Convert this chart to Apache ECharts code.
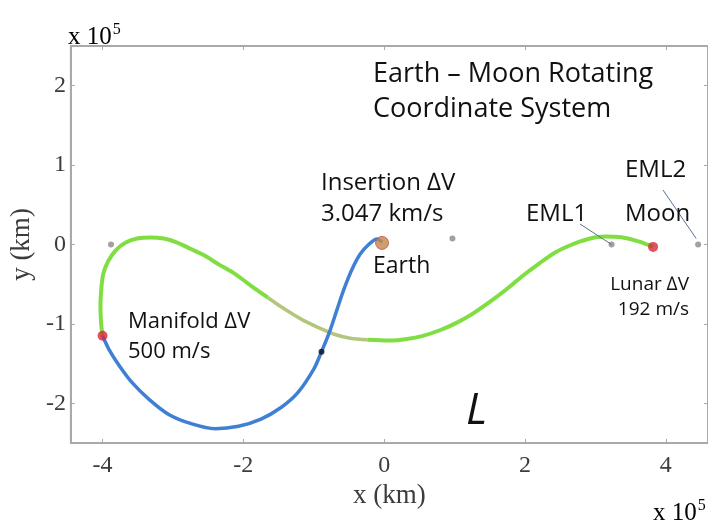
<!DOCTYPE html>
<html><head><meta charset="utf-8">
<script src="https://cdn.jsdelivr.net/npm/echarts@6/dist/echarts.min.js"></script>
<style>html,body{margin:0;padding:0;background:#fff}#c{width:708px;height:524px}</style>
</head><body><div id="c"></div>
<script>
// tick values (x10^5 km)
const xTicks = [-4, -2, 0, 2, 4];
const yTicks = [-2, -1, 0, 1, 2];
// green transfer arc: Moon -> manifold point
const greenX = [3.82, 3.61, 3.37, 3.14, 2.90, 2.67, 2.43, 2.20, 1.96, 1.73, 1.49, 1.26, 1.02, 0.79, 0.55, 0.32, 0.08, -0.24, -0.48, -0.71, -0.95, -1.18, -1.42, -1.65, -1.89, -2.12, -2.35, -2.57, -2.76, -2.94, -3.13, -3.32, -3.51, -3.67, -3.81, -3.92, -3.99, -4.02, -4.03, -4.02, -4.00];
const greenY = [-0.03, 0.04, 0.09, 0.10, 0.07, 0.00, -0.10, -0.24, -0.40, -0.57, -0.73, -0.87, -0.99, -1.08, -1.15, -1.19, -1.21, -1.20, -1.18, -1.13, -1.04, -0.94, -0.81, -0.67, -0.52, -0.37, -0.25, -0.13, -0.05, 0.025, 0.075, 0.088, 0.075, 0.025, -0.07, -0.21, -0.37, -0.58, -0.79, -1.00, -1.15];
// faded (olive) stretch of the green arc, by index range
const fadeRange = [17, 23];
// blue arc: manifold point -> Earth
const blueX = [-4.00, -3.91, -3.76, -3.58, -3.34, -3.06, -2.73, -2.40, -2.07, -1.75, -1.46, -1.23, -1.00, -0.89, -0.78, -0.67, -0.57, -0.45, -0.34, -0.22, -0.10, -0.03];
const blueY = [-1.15, -1.32, -1.53, -1.74, -1.95, -2.14, -2.26, -2.32, -2.29, -2.20, -2.05, -1.87, -1.57, -1.35, -1.11, -0.82, -0.56, -0.30, -0.12, 0.00, 0.07, 0.03];
// burn points (red): manifold, Moon
const burnX = [-4.00, 3.82];
const burnY = [-1.15, -0.03];
// Earth
const earthX = [-0.03];
const earthY = [0.02];
// crossing marker (black)
const markX = [-0.89];
const markY = [-1.35];
// libration points and small markers (gray): L3, EML1, EML2, other
const libX = [-3.88, 3.23, 4.46, 0.97];
const libY = [0.0, 0.0, 0.0, 0.075];

function pairs(xs, ys) { return xs.map((x, i) => [x, ys[i]]); }

const chart = echarts.init(document.getElementById('c'), null, {renderer: 'canvas'});
const serif = '"Liberation Serif", "DejaVu Serif", serif';
const sans = '"Open Sans", "Noto Sans", sans-serif';
const axisGray = '#a9a9a9';
const labelColor = '#3c3c3c';
const greenPts = pairs(greenX, greenY);

const option = {
  backgroundColor: '#fff',
  animation: false,
  grid: {left: 68, top: 46, right: -3, bottom: 81, show: true, borderColor: axisGray, borderWidth: 2, backgroundColor: 'transparent'},
  xAxis: [{
    type: 'value', min: -4.45, max: 4.6,
    axisLine: {show: true, onZero: false, lineStyle: {color: axisGray, width: 2}},
    axisTick: {show: true, inside: true, length: 4, customValues: xTicks, lineStyle: {color: axisGray}},
    axisLabel: {customValues: xTicks, fontFamily: serif, fontSize: 24, color: labelColor, margin: 11},
    splitLine: {show: false},
    name: 'x (km)', nameLocation: 'middle', nameGap: 26,
    nameTextStyle: {fontFamily: serif, fontSize: 27, color: labelColor}
  }, {
    type: 'value', min: -4.45, max: 4.6, position: 'top',
    axisLine: {show: true, onZero: false, lineStyle: {color: axisGray, width: 2}},
    axisTick: {show: true, inside: true, length: 4, customValues: xTicks, lineStyle: {color: axisGray}},
    axisLabel: {show: false}, splitLine: {show: false}
  }],
  yAxis: [{
    type: 'value', min: -2.5, max: 2.5,
    axisLine: {show: true, onZero: false, lineStyle: {color: axisGray, width: 2}},
    axisTick: {show: true, inside: true, length: 4, customValues: yTicks, lineStyle: {color: axisGray}},
    axisLabel: {customValues: yTicks, fontFamily: serif, fontSize: 24, color: labelColor, margin: 5},
    splitLine: {show: false},
    name: 'y (km)', nameLocation: 'middle', nameGap: 32, nameRotate: 90,
    nameTextStyle: {fontFamily: serif, fontSize: 27, color: labelColor}
  }, {
    type: 'value', min: -2.5, max: 2.5, position: 'right',
    axisLine: {show: true, onZero: false, lineStyle: {color: axisGray, width: 2}},
    axisTick: {show: true, inside: true, length: 4, customValues: yTicks, lineStyle: {color: axisGray}},
    axisLabel: {show: false}, splitLine: {show: false}
  }],
  series: [
    {type: 'line', data: greenPts.slice(0, fadeRange[0] + 1), smooth: 0.3, showSymbol: false, lineStyle: {color: '#80de42', width: 4}, z: 2},
    {type: 'line', data: greenPts.slice(fadeRange[0], fadeRange[1] + 1), smooth: 0.3, showSymbol: false, lineStyle: {color: '#b4c67c', width: 3.5}, z: 2},
    {type: 'line', data: greenPts.slice(fadeRange[1]), smooth: 0.3, showSymbol: false, lineStyle: {color: '#80de42', width: 4}, z: 2},
    {type: 'line', data: pairs(blueX, blueY), smooth: 0.3, showSymbol: false, lineStyle: {color: '#3f7fd4', width: 3.5}, z: 3},
    {type: 'scatter', data: pairs(libX, libY), symbolSize: 6, itemStyle: {color: '#8a8a8a'}, z: 4},
    {type: 'scatter', data: pairs(burnX, burnY), symbolSize: 10, itemStyle: {color: '#d8283a'}, z: 5},
    {type: 'scatter', data: pairs(earthX, earthY), symbolSize: 13, itemStyle: {color: '#c48648', borderColor: '#c0504a', borderWidth: 1}, z: 5},
    {type: 'scatter', data: pairs(markX, markY), symbolSize: 6, itemStyle: {color: '#111'}, z: 5}
  ]
};
chart.setOption(option);

function txt(text, x, y, size, opts) {
  return {
    type: 'text', x: x, y: y, z: 10,
    style: Object.assign({text: text, fontFamily: sans, fontSize: size, fill: '#111', verticalAlign: 'middle', align: 'left'}, (opts || {}))
  };
}
const eml1 = chart.convertToPixel({xAxisIndex: 0, yAxisIndex: 0}, [libX[1], libY[1]]);
const eml2 = chart.convertToPixel({xAxisIndex: 0, yAxisIndex: 0}, [libX[2], libY[2]]);
const sci = (x, y) => ({type: 'text', x: x, y: y, z: 10, style: {text: '{a|x 10}{b|5}', verticalAlign: 'bottom', align: 'left',
  rich: {a: {fontFamily: serif, fontSize: 25, color: labelColor}, b: {fontFamily: serif, fontSize: 16, color: labelColor, verticalAlign: 'top', padding: [0, 0, 14, 1]}}}});
chart.setOption({
  graphic: [
    txt('Earth \u2013 Moon Rotating', 373, 74, 27),
    txt('Coordinate System', 373, 109, 27),
    txt('Insertion \u2206V', 321, 183, 24),
    txt('3.047 km/s', 321, 214, 24),
    txt('EML1', 526, 214, 24),
    txt('EML2', 625, 170, 24),
    txt('Moon', 625, 214, 24),
    txt('Earth', 373, 266, 23),
    txt('Lunar \u2206V', 689, 285, 19, {align: 'right'}),
    txt('192 m/s', 689, 310, 19, {align: 'right'}),
    txt('Manifold \u2206V', 128, 322, 22),
    txt('500 m/s', 128, 352, 22),
    txt('L', 466, 411, 44, {fontStyle: 'italic'}),
    sci(68, 52),
    sci(653, 528),
    {type: 'line', z: 9, shape: {x1: 580, y1: 224, x2: eml1[0], y2: eml1[1]}, style: {stroke: '#5a7196', lineWidth: 1}},
    {type: 'line', z: 9, shape: {x1: 663, y1: 190, x2: eml2[0] - 2, y2: eml2[1] - 6}, style: {stroke: '#5a7196', lineWidth: 1}}
  ]
});
</script>
</body></html>
